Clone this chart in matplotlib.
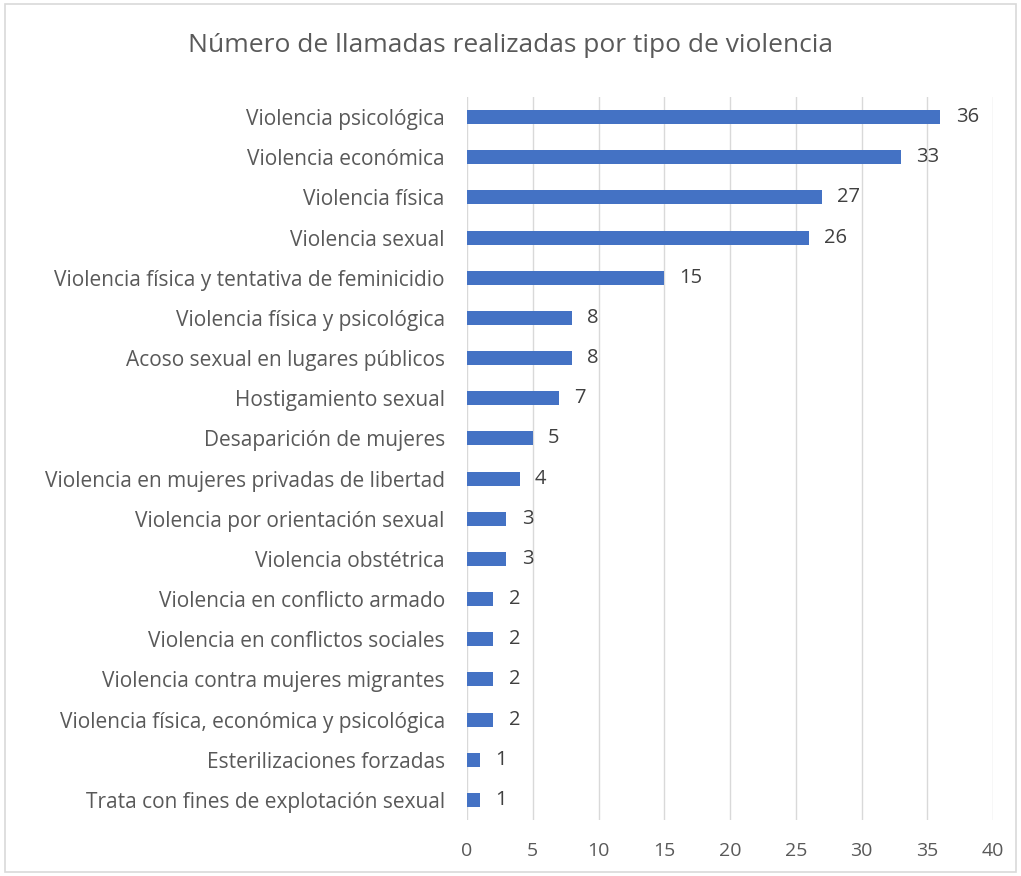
import matplotlib
matplotlib.use("Agg")
import matplotlib.pyplot as plt

categories = [
    "Violencia psicológica",
    "Violencia económica",
    "Violencia física",
    "Violencia sexual",
    "Violencia física y tentativa de feminicidio",
    "Violencia física y psicológica",
    "Acoso sexual en lugares públicos",
    "Hostigamiento sexual",
    "Desaparición de mujeres",
    "Violencia en mujeres privadas de libertad",
    "Violencia por orientación sexual",
    "Violencia obstétrica",
    "Violencia en conflicto armado",
    "Violencia en conflictos sociales",
    "Violencia contra mujeres migrantes",
    "Violencia física, económica y psicológica",
    "Esterilizaciones forzadas",
    "Trata con fines de explotación sexual",
]
values = [36, 33, 27, 26, 15, 8, 8, 7, 5, 4, 3, 3, 2, 2, 2, 2, 1, 1]
x_ticks = [0, 5, 10, 15, 20, 25, 30, 35, 40]
title = "Número de llamadas realizadas por tipo de violencia"

plt.rcParams["font.family"] = ["Open Sans", "DejaVu Sans"]
text_color = "#595959"

fig = plt.figure(figsize=(10.21, 8.76), dpi=100)
ax = fig.add_axes([0.4574, 0.0639, 0.5152, 0.8254])

pos = list(range(len(categories)))
ax.barh(pos, values, height=0.35, color="#4472C4", zorder=3)
ax.set_ylim(len(categories) - 0.5, -0.5)
ax.set_xlim(0, 40)
ax.set_yticks(pos)
ax.set_yticklabels(categories, fontsize=15, color=text_color)
ax.set_xticks(x_ticks)
ax.set_xticklabels([str(t) for t in x_ticks], fontsize=14, color=text_color)
ax.tick_params(axis="both", length=0)
ax.tick_params(axis="y", pad=16)
ax.tick_params(axis="x", pad=16)
ax.grid(axis="x", color="#D9D9D9", linewidth=1, zorder=0)
for s in ax.spines.values():
    s.set_visible(False)

for p, v in zip(pos, values):
    ax.annotate(str(v), xy=(v, p), xytext=(11, 0), textcoords="offset points",
                va="center", ha="left", fontsize=14.5, color="#404040")

fig.text(0.5, 0.948, title, ha="center", va="center", fontsize=19, color=text_color)

# light frame around the chart area
frame = plt.Rectangle((0.005, 0.005), 0.99, 0.99, transform=fig.transFigure,
                      fill=False, edgecolor="#D9D9D9", linewidth=1.2)
fig.patches.append(frame)

fig.savefig("out.png", dpi=100, facecolor="white")
